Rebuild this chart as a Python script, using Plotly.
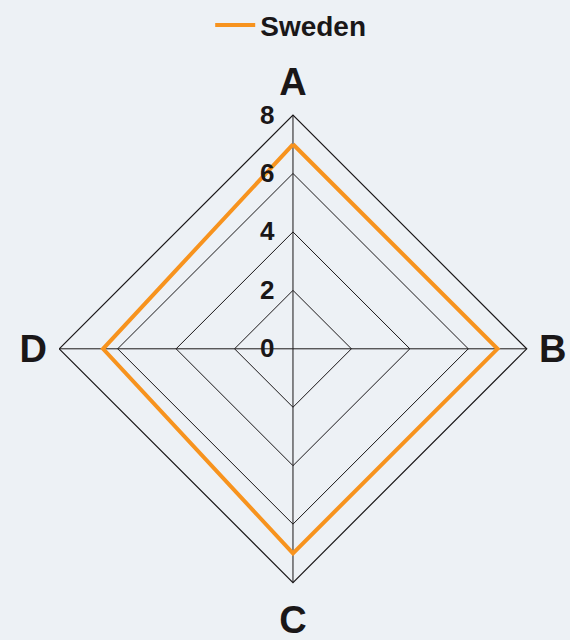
import plotly.graph_objects as go

# ------------------ Data ------------------
axes_labels = ["A", "B", "C", "D"]
sweden_values = [7.0, 7.0, 7.0, 6.5]
radial_ticks = [0, 2, 4, 6, 8]

BG = "#edf1f5"
INK = "#1a1718"
ORANGE = "#f7931e"

fig = go.Figure()
fig.add_trace(go.Scatterpolar(
    r=sweden_values + sweden_values[:1],
    theta=axes_labels + axes_labels[:1],
    mode="lines",
    name="Sweden",
    line=dict(color=ORANGE, width=4),
))

fig.update_layout(
    width=570, height=640,
    paper_bgcolor=BG, plot_bgcolor=BG,
    margin=dict(l=0, r=0, t=0, b=0),
    font=dict(family="Liberation Sans, Arial, sans-serif", color=INK),
    showlegend=True,
    legend=dict(
        orientation="h", x=0.51, xanchor="center", y=1.009, yanchor="top",
        font=dict(size=28, color=INK, weight="bold"),
        bgcolor="rgba(0,0,0,0)", itemwidth=40,
    ),
    polar=dict(
        bgcolor=BG,
        gridshape="linear",
        domain=dict(x=[0.1, 0.928], y=[0.0906, 0.828]),
        angularaxis=dict(
            rotation=90, direction="clockwise",
            categoryorder="array", categoryarray=axes_labels,
            showline=True, linecolor=INK, linewidth=1.2,
            gridcolor=INK, gridwidth=1.2,
            ticks="outside", ticklen=4, tickcolor="rgba(0,0,0,0)",
            tickfont=dict(size=38, color=INK, weight="bold"),
        ),
        radialaxis=dict(
            range=[0, 8], tickvals=radial_ticks, angle=90, tickangle=90,
            showline=False, gridcolor=INK, gridwidth=1.2,
            ticks="outside", ticklen=9, tickcolor="rgba(0,0,0,0)",
            side="counterclockwise",
            tickfont=dict(size=26, color=INK, weight="bold"),
        ),
    ),
)

fig.write_html("out.html", config={"displayModeBar": False},
               post_script="document.body.style.margin='0';")
